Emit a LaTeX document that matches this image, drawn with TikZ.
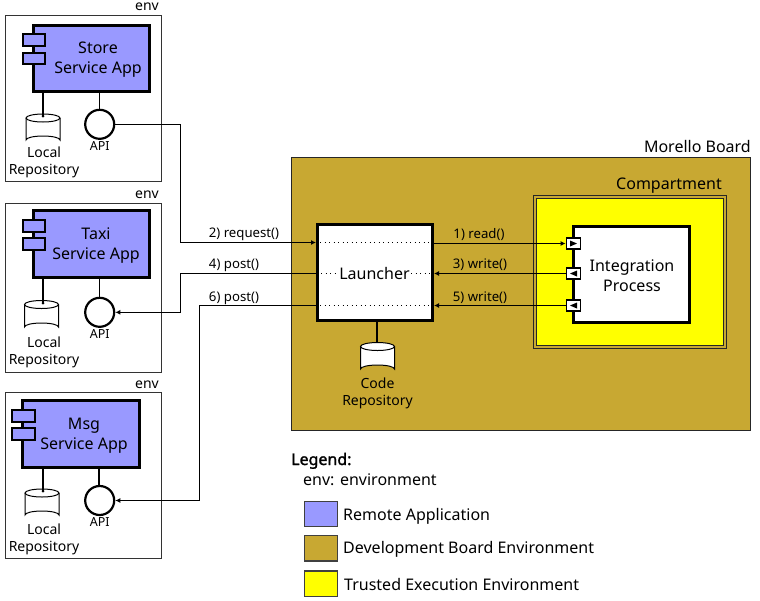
\documentclass[tikz,border=0pt]{standalone}
\usepackage{fontspec}
\setmainfont{Noto Sans}
\newfontfamily\legendb[FakeBold=1.6]{Noto Sans}
\usetikzlibrary{arrows.meta,calc}
\definecolor{appblue}{HTML}{9999FF}
\definecolor{board}{HTML}{C8A832}
\definecolor{tee}{HTML}{FFFF00}
\tikzset{
 envbox/.style={draw=black!80,line width=1pt,fill=white},
 envlab/.style={font=\fontsize{14}{17}\selectfont,inner sep=0pt,anchor=base east},
 appbox/.style={draw=black,line width=3pt,fill=appblue},
 tab/.style={draw=black,line width=2pt,fill=appblue},
 stem/.style={line width=1.5pt,draw=black},
 apicirc/.style={draw=black,line width=2.2pt,fill=white,circle,minimum size=29pt,inner sep=0pt},
 msg/.style={draw=black,line width=1.1pt,-{Latex[length=5pt,width=5pt]}},
 wire/.style={draw=black,line width=1.1pt},
 dots/.style={draw=black,line width=1.1pt,dash pattern=on 1pt off 3.5pt},
 port/.style={draw=black,line width=1.8pt,fill=white},
 t15/.style={font=\fontsize{16}{20}\selectfont,align=center,inner sep=0pt},
 t14/.style={font=\fontsize{14}{17}\selectfont,align=center,inner sep=0pt},
 t12/.style={font=\fontsize{12.5}{15}\selectfont,inner sep=0pt},
 tm/.style={font=\fontsize{13.2}{15}\selectfont,inner sep=0pt},
 tl/.style={font=\fontsize{16}{20}\selectfont,inner sep=0pt,anchor=west},
 thinframe/.style={draw=black!85,line width=1pt},
}
\newcommand{\drum}[3]{% cx, top y, bottom y
 \draw[line width=1pt,fill=white] (#1-17,#2) -- (#1-17,#3) arc[start angle=180,end angle=360,x radius=17,y radius=4] -- (#1+17,#2);
 \draw[line width=1pt,fill=white] (#1,#2) ellipse[x radius=17,y radius=4];
}
\begin{document}
\begin{tikzpicture}[x=1pt,y=-1pt]
\useasboundingbox (0,0) rectangle (760,600);
% env boxes
\node[envlab] (e1) at (159,10.5) {env};
\draw[envbox] (5,15) rectangle (161,181);
\node[envlab] (e2) at (159,198.5) {env};
\draw[envbox] (5,203) rectangle (161,372);
\node[envlab] (e3) at (159,388.5) {env};
\draw[envbox] (5,392.5) rectangle (161,558.5);
% app 1
\drum{43}{118}{140}
\draw[stem] (43,92) -- (43,116);
\fill (43,116) circle (1.5);
\draw[stem] (99.5,92) -- (99.5,110);
\draw[appbox] (33.5,25) rectangle (149.5,91.5);
\draw[tab] (22.7,34) rectangle (45,45.7);
\draw[tab] (22.7,52.7) rectangle (45,64.3);
\node[t15] (s1) at (98,60) {Store\\Service App};
\node[apicirc] (a1) at (99.7,124.3) {};
\node[t12] (al1) at (99.7,146.5) {API};
\node[t14] (r1) at (44,162.3) {Local\\Repository};
% app 2
\drum{41.5}{304.5}{327}
\draw[stem] (43,278) -- (43,303);
\fill (43,303) circle (1.5);
\draw[stem] (99.5,278) -- (99.5,298);
\draw[appbox] (33.5,210.5) rectangle (149.5,277.8);
\draw[tab] (22.7,220) rectangle (45,232);
\draw[tab] (22.7,238.3) rectangle (45,250.3);
\node[t15] (s2) at (96,246) {Taxi\\Service App};
\node[apicirc] (a2) at (99.7,312.3) {};
\node[t12] (al2) at (99.7,334.5) {API};
\node[t14] (r2) at (44,352) {Local\\Repository};
% app 3
\drum{42}{493}{515}
\draw[stem] (43,468) -- (43,491);
\fill (43,491) circle (1.5);
\draw[stem] (99,468) -- (99,486);
\draw[appbox] (22.8,400.5) rectangle (139.5,467.5);
\draw[tab] (11.7,409.7) rectangle (34.7,422);
\draw[tab] (11.7,428.3) rectangle (34.7,440.3);
\node[t15] (s3) at (84,436) {Msg\\Service App};
\node[apicirc] (a3) at (99.7,500.5) {};
\node[t12] (al3) at (99.7,522.5) {API};
\node[t14] (r3) at (44,539.3) {Local\\Repository};
% board
\node[t15,anchor=base east] (mb) at (751,152.5) {Morello Board};
\draw[thinframe,fill=board] (291,157) rectangle (750.5,430);
\node[t15,anchor=base east] (cp) at (722,189) {Compartment};
\draw[thinframe] (533.5,195.5) rectangle (726.5,348.5);
\draw[thinframe,fill=tee] (536.5,198.5) rectangle (723.5,345.5);
% process
\draw[draw=black,line width=3pt,fill=white] (573.5,226.5) rectangle (689.5,322.5);
\node[t15] (ip) at (632,276) {Integration\\Process};
% launcher
\drum{377.5}{346.5}{369}
\node[draw=black,line width=3pt,fill=white,minimum width=115pt,minimum height=96pt,inner sep=0pt] (la) at (375,272.5) {};
\coordinate (lb) at (377,321);
\coordinate (dt) at (377,342);
\draw[stem] (lb) -- (dt);
\node[t14] (cr) at (377.5,393.5) {Code\\Repository};
\node[t15,fill=white,inner xsep=1pt] (lt) at (374.5,273.5) {Launcher};
% dotted
\draw[dots] (320,242.5) -- (431,242.5);
\draw[dots] (321,273.5) -- (338,273.5);
\draw[dots] (411,273.5) -- (431,273.5);
\draw[dots] (320,305.5) -- (431,305.5);
% ports
\node[port,minimum width=14pt,minimum height=11pt,inner sep=0pt] (p1) at (573.5,243.5) {};
\node[port,minimum width=14pt,minimum height=11pt,inner sep=0pt] (p2) at (573.5,273.5) {};
\node[port,minimum width=14pt,minimum height=11pt,inner sep=0pt] (p3) at (573.5,305.5) {};
\fill (570,240.5) -- (577,243.5) -- (570,246.5) -- cycle;
\fill (577,270.5) -- (570,273.5) -- (577,276.5) -- cycle;
\fill (577,302.5) -- (570,305.5) -- (577,308.5) -- cycle;
% messages
\draw[wire,-{Latex[length=5pt,width=5pt]}] (a1.east) -- (180.5,124.3) -- (180.5,242.5) -- (la.west |- 0,242.5);
\draw[msg] (la.west |- 0,273.5) -- (180.5,273.5) -- (180.5,312.3) -- (a2.east);
\draw[msg] (la.west |- 0,305.5) -- (199.5,305.5) -- (199.5,500.5) -- (a3.east);
\draw[msg] (la.east |- 0,243.5) -- (p1.west);
\draw[msg] (p2.west) -- (la.east |- 0,273.5);
\draw[msg] (p3.west) -- (la.east |- 0,305.5);
\node[tm,anchor=base] (m2) at (244,237) {2) request()};
\node[tm,anchor=base] (m4) at (234,268.5) {4) post()};
\node[tm,anchor=base] (m6) at (234,301.5) {6) post()};
\node[tm,anchor=base] (m1) at (479,238) {1) read()};
\node[tm,anchor=base] (m3) at (480,268.5) {3) write()};
\node[tm,anchor=base] (m5) at (480,301.5) {5) write()};
% legend
\node[t15,anchor=base west] (lg) at (291,465) {\legendb Legend:};
\node[t15,anchor=base west] (lg2) at (303,485) {env: environment};
\draw[draw=black!75,line width=1.1pt,fill=appblue] (304.5,501.5) rectangle (337.5,526.5);
\node[tl] (l1) at (343,516) {Remote Application};
\draw[draw=black!75,line width=1.1pt,fill=board] (304.5,535.5) rectangle (337.5,561);
\node[tl] (l2) at (343,549) {Development Board Environment};
\draw[draw=black!75,line width=1.1pt,fill=tee] (304.5,571) rectangle (337.5,596.5);
\node[tl] (l3) at (344,584.5) {Trusted Execution Environment};
\end{tikzpicture}
\end{document}
